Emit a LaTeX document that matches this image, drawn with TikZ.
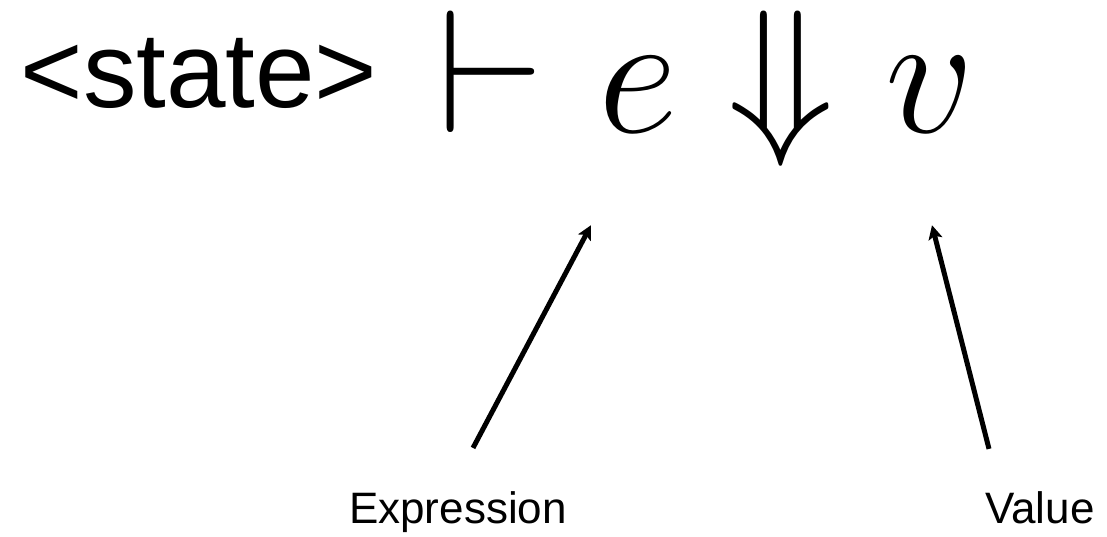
\RequirePackage{fix-cm}
\documentclass[tikz,border=0pt]{standalone}
\usepackage{fontspec}
\setmainfont{Liberation Sans}
\usetikzlibrary{arrows.meta}
\tikzset{
  bigtext/.style={inner sep=0pt, anchor=base, font=\fontsize{107}{120}\selectfont},
  mathsym/.style={inner sep=0pt, anchor=base, font=\fontsize{175}{200}\selectfont},
  label text/.style={inner sep=0pt, anchor=base, font=\fontsize{44}{52}\selectfont},
  pointer/.style={line width=5pt, -{Stealth[length=14pt,width=14pt,inset=3pt]}}
}
\begin{document}
\begin{tikzpicture}[x=1pt,y=-1pt]
\useasboundingbox (0,0) rectangle (1107,537);
\node[bigtext] (state) at (199,108) {<state>};
\node[mathsym] (vdash) at (491,133) {$\vdash$};
\node[mathsym] (e) at (638,133) {$e$};
\node[mathsym] (darrow) at (781,133) {$\Downarrow$};
\node[mathsym] (v) at (930,133) {$v$};
\node[label text] (expr) at (458,523) {Expression};
\node[label text] (val) at (1040,523) {Value};
\draw[pointer] ([shift={(15,-43)}]expr.north) -- ([shift={(-47,92)}]e.south);
\draw[pointer] ([shift={(-51,-42)}]val.north) -- ([shift={(2,92)}]v.south);
\end{tikzpicture}
\end{document}
